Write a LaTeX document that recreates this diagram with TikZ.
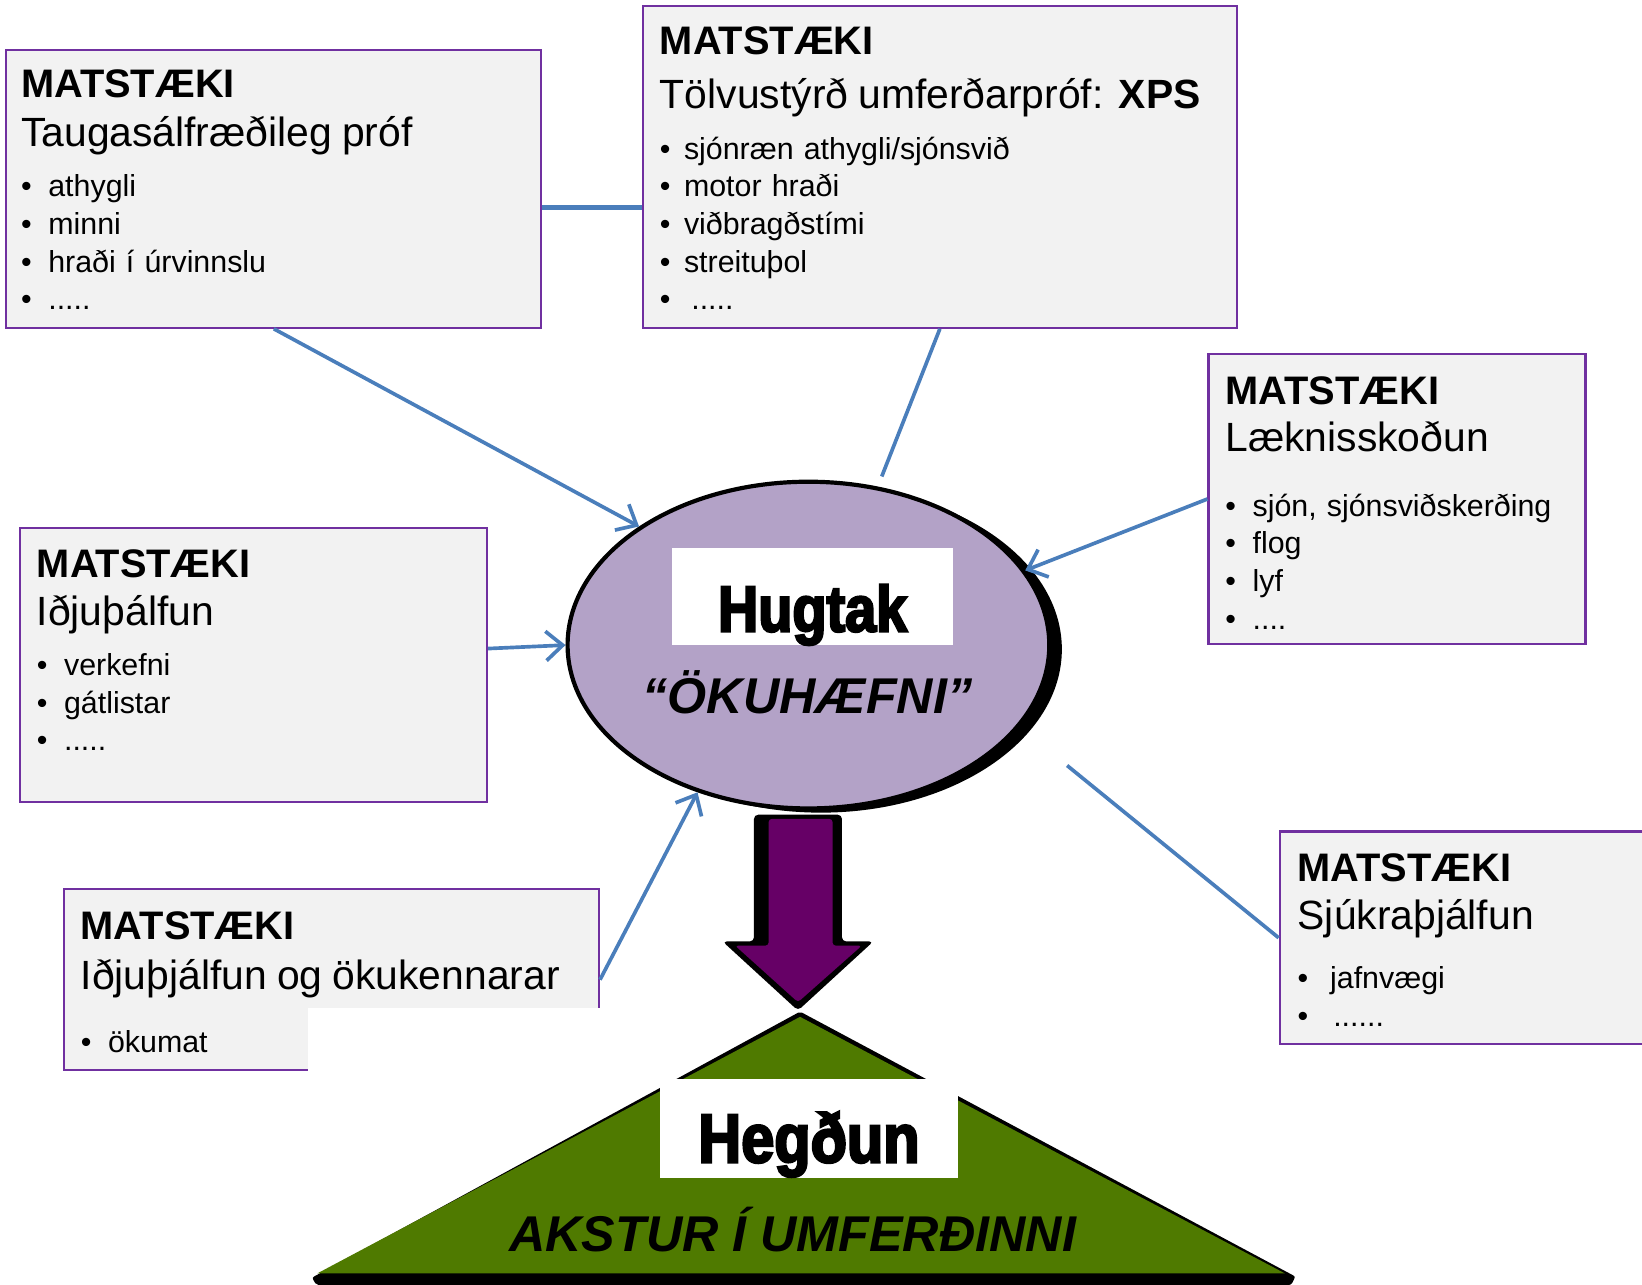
\documentclass[tikz,border=0pt]{standalone}
\usepackage{fontspec}
\setmainfont{Liberation Sans}
\newfontfamily\heavyfont{Liberation Sans Bold}[FakeBold=3.5,FakeStretch=0.86]
\usetikzlibrary{arrows.meta,shapes.geometric,shadows}

\definecolor{linkblue}{RGB}{74,126,187}
\definecolor{boxpurple}{RGB}{112,48,160}
\definecolor{boxgray}{RGB}{242,242,242}
\definecolor{lavender}{RGB}{179,162,199}
\definecolor{darkplum}{RGB}{102,0,102}
\definecolor{hillgreen}{RGB}{79,122,0}

\newcommand{\mhead}[1]{{\fontsize{38}{36}\selectfont\bfseries #1}}
\newcommand{\msub}[1]{{\fontsize{39}{36}\selectfont #1}}
\newcommand{\itm}[2][26pt]{\makebox[#1][l]{•}#2}

\tikzset{
  matbox/.style={draw=boxpurple, line width=2pt, fill=boxgray, anchor=north west, inner sep=0pt},
  mattext/.style={anchor=base west, inner sep=0pt, text width=560pt, align=left,
    font=\fontsize{29}{36}\selectfont\lineskiplimit-100pt},
  conn/.style={draw=linkblue, line width=3.5pt, -{Straight Barb[length=16pt,width=28pt]}},
  link/.style={draw=linkblue, line width=3.5pt},
  heavy/.style={fill=white, inner sep=0pt, anchor=base},
}

\begin{document}
\begin{tikzpicture}[x=1pt, y=-1pt]
    \useasboundingbox (0,0) rectangle (1568,1227);

    \node[matbox, minimum width=511pt, minimum height=265pt] (neuro) at (5,47) {};
    \node[matbox, minimum width=567pt, minimum height=307pt] (xps) at (613,5) {};
    \node[matbox, minimum width=360pt, minimum height=277pt] (laekn) at (1153,337) {};
    \node[matbox, minimum width=446pt, minimum height=262pt] (idja) at (18,503) {};
    \node[matbox, minimum width=511pt, minimum height=173pt] (oku) at (60,848) {};
    \node[matbox, minimum width=400pt, minimum height=203pt] (sjukr) at (1221,793) {};

    \node[mattext] (neurotxt) at ([shift={(15,46)}]neuro.north west)
        {\mhead{MATSTÆKI}\\[11pt]\msub{Taugasálfræðileg próf}\\[12pt]\itm{athygli}\\\itm{minni}\\\itm{hraði í úrvinnslu}\\\itm{.....}};
    \node[mattext] (xpstxt) at ([shift={(17,47)}]xps.north west)
        {\mhead{MATSTÆKI}\\[16pt]\msub{Tölvustýrð umferðarpróf: \textbf{XPS}}\\[12pt]\itm[23pt]{sjónræn athygli/sjónsvið}\\\itm[23pt]{motor hraði}\\\itm[23pt]{viðbragðstími}\\\itm[23pt]{streituþol}\\\itm[23pt]{\hspace{7pt}.....}};
    \node[mattext] (laekntxt) at ([shift={(17,49)}]laekn.north west)
        {\mhead{MATSTÆKI}\\[9pt]\msub{Læknisskoðun}\\[26pt]\itm{sjón, sjónsviðskerðing}\\\itm{flog}\\\itm{lyf}\\\itm{....}};
    \node[mattext] (idjatxt) at ([shift={(17,48)}]idja.north west)
        {\mhead{MATSTÆKI}\\[10pt]\msub{Iðjuþálfun}\\[12pt]\itm{verkefni}\\\itm{gátlistar}\\\itm{.....}};
    \node[mattext] (okutxt) at ([shift={(17,49)}]oku.north west)
        {\mhead{MATSTÆKI}\\[12pt]\msub{Iðjuþjálfun og ökukennarar}\\[24pt]\itm{ökumat}};
    \node[mattext] (sjukrtxt) at ([shift={(18,49)}]sjukr.north west)
        {\mhead{MATSTÆKI}\\[10pt]\msub{Sjúkraþjálfun}\\[20pt]\itm[31pt]{jafnvægi}\\\itm[31pt]{\hspace{3pt}......}};

    \node[ellipse, draw=black, line width=4pt, fill=lavender, minimum width=460pt, minimum height=312pt, inner sep=0pt,
        drop shadow={opacity=1, fill=black, shadow xshift=12pt, shadow yshift=-4pt}] (hug) at (772,616) {};
    \fill[white] (520,440) rectangle (576.5,516);
    \fill[white] (960,440) rectangle (1030,516);
    \fill[white] (520,709) rectangle (576.5,790);
    \fill[white] (979,709.6) rectangle (1030,790);
    \node[heavy, minimum width=268pt, text height=80pt, text depth=13pt,
        font=\heavyfont\fontsize{62}{62}\selectfont] (hugtak) at (776,603) {Hugtak};
    \node[anchor=base, inner sep=0pt, font=\fontsize{48}{48}\selectfont\bfseries\itshape] (okuh) at (771,681) {“ÖKUHÆFNI”};

    \fill[black, rounded corners=4pt] (720,778) -- (804,778) -- (804,899) -- (834,899) -- (762,965) -- (690,899) -- (720,899) -- cycle;
    \fill[darkplum, rounded corners=3pt] (734,782) -- (795,782) -- (795,903) -- (823,903) -- (762,957) -- (702,903) -- (734,903) -- cycle;

    \fill[black, rounded corners=2pt] (764,966) -- (1237,1219) -- (1233,1227) -- (302,1227) -- (298,1220) -- cycle;
    \fill[hillgreen] (764,971) -- (1227,1216) -- (303,1216) -- cycle;
    \node[heavy, minimum width=285pt, text height=80pt, text depth=15pt,
        font=\heavyfont\fontsize{66}{66}\selectfont] (hegdun) at (772.5,1110) {Hegðun};
    \node[anchor=base, inner sep=0pt, font=\fontsize{48}{48}\selectfont\bfseries\itshape] (akstur) at (757,1195) {AKSTUR Í UMFERÐINNI};

    \fill[white] (294,963) rectangle (576,1025);

    \coordinate (xpsend) at (842,455);
    \coordinate (sjukrend) at (1019,731);
    \draw[conn] (neuro.south) -- (hug.145);
    \draw[link, line width=5pt] (neuro.-4) -- (neuro.-4 -| xps.west);
    \draw[link] (xps.south) -- (xpsend);
    \draw[conn] (laekn.west) -- (hug.19);
    \draw[conn] (idja.4) -- (hug.180);
    \draw[conn] (oku.east) -- (hug.233);
    \draw[link] (sjukr.west) -- (sjukrend);
\end{tikzpicture}
\end{document}
